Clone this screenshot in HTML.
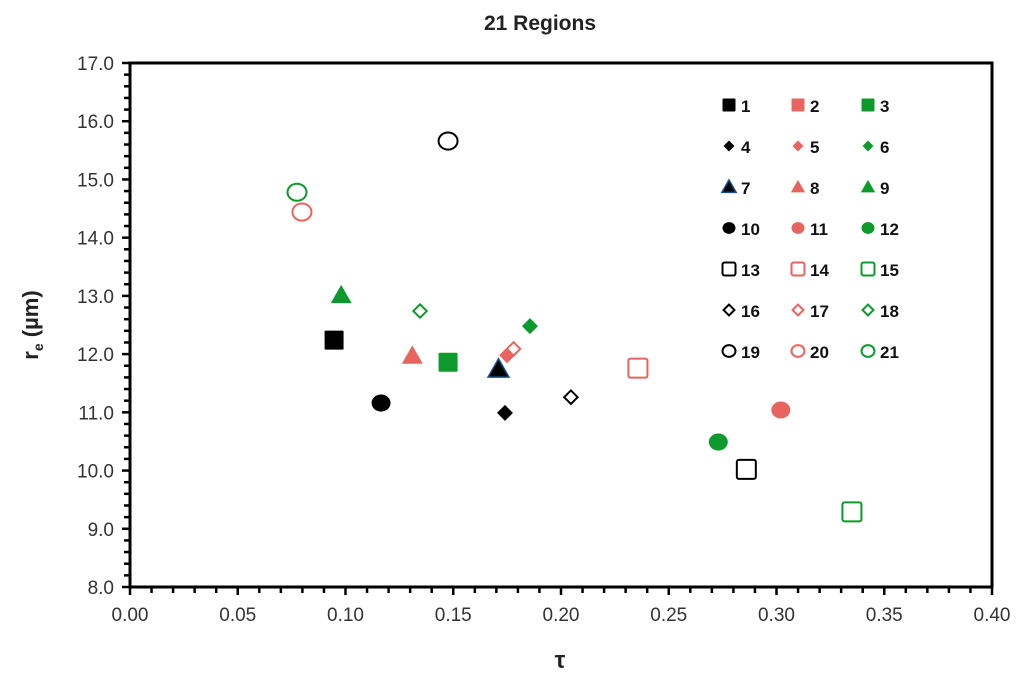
<!DOCTYPE html>
<html><head><meta charset="utf-8"><style>
body{margin:0;background:#fff}
svg{font-family:"Liberation Sans",sans-serif}
</style></head><body>
<svg id="c" width="1024" height="674">
<text x="540" y="30" text-anchor="middle" font-size="21" font-weight="bold" fill="#222">21 Regions</text>
<text x="560" y="668" text-anchor="middle" font-size="24" font-weight="bold" fill="#222">τ</text>
<text transform="translate(38,325) rotate(-90)" text-anchor="middle" font-size="22" font-weight="bold" fill="#222">r<tspan font-size="14" dy="5">e</tspan><tspan dy="-5"> (µm)</tspan></text>
<g id="axes"></g><g id="marks"></g><g id="legend"></g>
</svg>
<script>
const regions=["1","2","3","4","5","6","7","8","9","10","11","12","13","14","15","16","17","18","19","20","21"];
const tauValues=[0.0947,null,0.1476,0.174,0.175,0.1856,0.171,0.131,0.098,0.1165,0.302,0.273,0.286,0.2357,0.335,0.2046,0.178,0.1346,0.1476,0.0798,0.0775];
const reValues=[12.24,null,11.86,10.99,11.98,12.48,11.74,11.97,13.01,11.16,11.04,10.49,10.02,11.76,9.29,11.26,12.09,12.74,15.66,14.44,14.78];
const xTicks=["0.00","0.05","0.10","0.15","0.20","0.25","0.30","0.35","0.40"];
const yTicks=["8.0","9.0","10.0","11.0","12.0","13.0","14.0","15.0","16.0","17.0"];
const NS="http://www.w3.org/2000/svg";
const X0=130,X1=992,Y0=587,Y1=63;
const xs=v=>X0+(v-0)/(0.40)*(X1-X0);
const ys=v=>Y0-(v-8)/(9)*(Y0-Y1);
function mk(t,a,p){const e=document.createElementNS(NS,t);for(const k in a)e.setAttribute(k,a[k]);(p||document.getElementById('marks')).appendChild(e);return e;}
const ax=document.getElementById('axes');
const box=mk('rect',{x:X0,y:Y1,width:X1-X0,height:Y0-Y1,fill:'none',stroke:'#000','stroke-width':3},ax);


for(let i=0;i<=40;i++){const x=xs(i*0.01);mk('line',{x1:x,x2:x,y1:Y0,y2:Y0+(i%5==0?8:6),stroke:'#000','stroke-width':2.5},ax);}
xTicks.forEach(t=>{const e=mk('text',{x:xs(+t),y:Y0+34,'text-anchor':'middle','font-size':19,fill:'#333'},ax);e.textContent=t;

});
for(let i=0;i<=45;i++){const y=ys(8+i*0.2);mk('line',{x1:X0,x2:X0-(i%5==0?8:6),y1:y,y2:y,stroke:'#000','stroke-width':2.5},ax);}
yTicks.forEach(t=>{const e=mk('text',{x:X0-16,y:ys(+t)+7,'text-anchor':'end','font-size':19,fill:'#333'},ax);e.textContent=t;

});
const cols=['#000','#e8645e','#0b9a2b'];
function shape(i,cx,cy,s,p){const c=cols[i%3],g=Math.floor(i/3);let e;const f=g<4?c:'#fff',st=g<4?(i==6?'#1f4e8c':c):c,sw=g<4?(i==6?1.5:0):2;
if(g==0||g==4){e=mk('rect',{x:cx-s/2,y:cy-s/2,width:s,height:s,rx:g==4?2:1,fill:f,stroke:st,'stroke-width':sw},p);}
else if(g==1||g==5){const d=s*0.42;e=mk('polygon',{points:`${cx},${cy-d} ${cx+d},${cy} ${cx},${cy+d} ${cx-d},${cy}`,fill:f,stroke:st,'stroke-width':sw},p);}
else if(g==2){const d=s*0.55;e=mk('polygon',{points:`${cx},${cy-d} ${cx+d},${cy+d*0.75} ${cx-d},${cy+d*0.75}`,fill:f,stroke:st,'stroke-width':sw},p);}
else{e=mk('ellipse',{cx:cx,cy:cy,rx:s/2,ry:s/2*0.9,fill:f,stroke:st,'stroke-width':sw},p);}
return e;}
regions.forEach((r,i)=>{if(tauValues[i]==null)return;const e=shape(i,xs(tauValues[i]),ys(reValues[i]),i>=15&&i<18?16:19);

});
const lg=document.getElementById('legend');
regions.forEach((r,i)=>{const cx=[729,798,868][i%3],cy=105+Math.floor(i/3)*41;
const e=shape(i,cx,cy,13,lg);


const t=mk('text',{x:cx+12,y:cy+7,'font-size':17,'font-weight':'bold',fill:'#111'},lg);t.textContent=r;

});
</script>
</body></html>
